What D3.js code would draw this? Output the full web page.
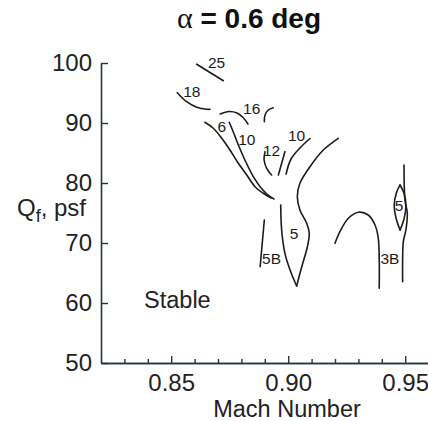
<!DOCTYPE html>
<html><head><meta charset="utf-8">
<script src="https://cdn.jsdelivr.net/npm/d3@7"></script>
<style>body{margin:0;background:#fff} svg{display:block}</style>
</head><body>
<svg id="chart" width="428" height="421"></svg>
<script>
// Flutter boundary contours at alpha = 0.6 deg, points are [Mach, Qf (psf)]
const xTicks = [0.85, 0.90, 0.95];
const xMinorTicks = [0.83, 0.84, 0.86, 0.87, 0.88, 0.89, 0.91, 0.92, 0.93, 0.94, 0.96];
const yTicks = [50, 60, 70, 80, 90, 100];

const line25 = [[0.8609, 99.8], [0.8723, 97.05]];
const line18 = [[0.8526, 95.05], [0.8566, 93.55], [0.8609, 92.62], [0.8652, 92.28], [0.8666, 92.28]];
const line16 = [[0.8709, 91.5], [0.8747, 91.92], [0.8781, 91.67], [0.8807, 90.92], [0.8828, 89.83]];
const line16Hook = [[0.8898, 90.22], [0.8901, 91.33], [0.8915, 92.17], [0.8936, 92.55]];
const line6 = [[0.8644, 90.12], [0.868, 89.12], [0.8716, 87.45], [0.8751, 85.5], [0.8787, 83.28], [0.8823, 81.33], [0.8858, 79.38], [0.8892, 78.33], [0.8927, 77.5]];
const line10Left = [[0.8748, 90.12], [0.8765, 88.55], [0.8787, 86.33], [0.8815, 83.83], [0.8851, 81.05], [0.888, 79.38], [0.8909, 78.17], [0.8939, 77.33]];
const line12 = [[0.8901, 85.22], [0.8897, 83.83], [0.8908, 82.45], [0.8929, 81.33]];
const line12Edge = [[0.8986, 85.22], [0.8958, 81.33]];
const line10Right = [[0.9093, 87.42], [0.905, 85.83], [0.9012, 84], [0.8991, 81.5]];
const line5Right = [[0.9214, 87.45], [0.915, 85.5], [0.9093, 82.72], [0.905, 79.95], [0.9039, 77.72], [0.905, 75.5], [0.9079, 73.28], [0.909, 71.62], [0.9082, 69.38], [0.9058, 66.05], [0.9036, 62.83]];
const line5Left = [[0.9036, 62.83], [0.9008, 65.5], [0.8986, 68.28], [0.8972, 72.17], [0.8968, 76.33]];
const line5B = [[0.8898, 73.83], [0.888, 66.05]];
const line3B = [[0.92, 69.95], [0.9221, 71.88], [0.9257, 74.12], [0.93, 75.12], [0.9342, 74.67], [0.9371, 73], [0.9385, 70.78], [0.9389, 67.17], [0.9389, 62.45]];
const lineEdge95 = [[0.9495, 83], [0.9499, 77.17], [0.9509, 74.95], [0.9503, 72.17], [0.9492, 70.22], [0.9489, 67.17], [0.9489, 63.55]];
const lensRight = [[0.9478, 79.67], [0.9495, 78.3], [0.9503, 76.3], [0.9495, 74], [0.9478, 72.17]];
const lensLeft = [[0.9478, 72.17], [0.9462, 74], [0.9453, 76.3], [0.9462, 78.3], [0.9478, 79.67]];

const contourLabels = ["25", "18", "16", "6", "10", "12", "10", "5", "5B", "3B", "5"];
const labelMach = [0.8694, 0.8588, 0.8844, 0.8716, 0.8823, 0.8929, 0.9036, 0.9025, 0.8929, 0.9435, 0.9474];
const labelQ = [100.05, 95.22, 92.45, 89.38, 87.17, 85.5, 88, 71.62, 67.45, 67.45, 76.17];

const contours = [line25, line18, line16, line16Hook, line6, line10Left, line12, line12Edge,
  line10Right, line5Right, line5Left, line5B, line3B, lineEdge95, lensRight, lensLeft];

const svg = d3.select("#chart");
const x = d3.scaleLinear().domain([0.82, 0.96]).range([101, 428.6]);
const y = d3.scaleLinear().domain([50, 100]).range([363, 63]);
const axisColor = "#24373f";
const font = "Liberation Sans, Arial, Helvetica, sans-serif";

// x axis: major and minor ticks pointing into the plot
const gxMinor = svg.append("g").attr("transform", "translate(0,363)")
  .call(d3.axisBottom(x).tickValues(xMinorTicks).tickSize(-4).tickSizeOuter(0).tickFormat(""));
const gx = svg.append("g").attr("transform", "translate(0,363)")
  .call(d3.axisBottom(x).tickValues(xTicks).tickSize(-7).tickSizeOuter(0).tickPadding(11)
    .tickFormat(d3.format(".2f")));
const gy = svg.append("g").attr("transform", "translate(101,0)")
  .call(d3.axisLeft(y).tickValues(yTicks).tickSize(-7).tickSizeOuter(0).tickPadding(9));

[gxMinor, gx, gy].forEach(g => {
  g.select(".domain").attr("stroke", axisColor).attr("stroke-width", 1.6);
  g.selectAll(".tick line").attr("stroke", axisColor).attr("stroke-width", 1.4);
  g.selectAll(".tick text").attr("fill", "#222").attr("font-family", font).attr("font-size", 24);
});
gx.selectAll(".tick text").attr("dy", "0.71em");

// contour lines
const lineGen = d3.line().x(d => x(d[0])).y(d => y(d[1])).curve(d3.curveCatmullRom.alpha(0.5));
svg.append("g").selectAll("path").data(contours).join("path")
  .attr("d", lineGen)
  .attr("fill", "none").attr("stroke", "#1c1c1c").attr("stroke-width", 1.6)
  .attr("stroke-linecap", "round");

// contour values
svg.append("g").selectAll("text").data(contourLabels).join("text")
  .attr("x", (d, i) => x(labelMach[i]))
  .attr("y", (d, i) => y(labelQ[i]))
  .attr("text-anchor", "middle").attr("dominant-baseline", "central")
  .attr("font-family", font).attr("font-size", 15.5).attr("fill", "#1c1c1c")
  .text(d => d);

svg.append("text").attr("x", x(0.8384)).attr("y", y(59.17))
  .attr("font-family", font).attr("font-size", 23.5).attr("fill", "#222").text("Stable");

// title
const title = svg.append("text").attr("x", 249).attr("y", 28).attr("text-anchor", "middle")
  .attr("fill", "#111");
title.append("tspan").attr("font-family", "Liberation Serif, DejaVu Serif, serif")
  .attr("font-size", 30).text("α");
title.append("tspan").attr("font-family", font).attr("font-weight", "bold")
  .attr("font-size", 28).text(" = 0.6 deg");

// axis titles
svg.append("text").attr("x", 287).attr("y", 417).attr("text-anchor", "middle")
  .attr("font-family", font).attr("font-size", 23.5).attr("fill", "#222").text("Mach Number");

const ql = svg.append("text").attr("x", 17).attr("y", 216)
  .attr("font-family", font).attr("font-size", 24).attr("fill", "#222");
ql.append("tspan").text("Q");
ql.append("tspan").attr("font-size", 18).attr("dy", 6).text("f");
ql.append("tspan").attr("dy", -6).text(", psf");
</script>
</body></html>
